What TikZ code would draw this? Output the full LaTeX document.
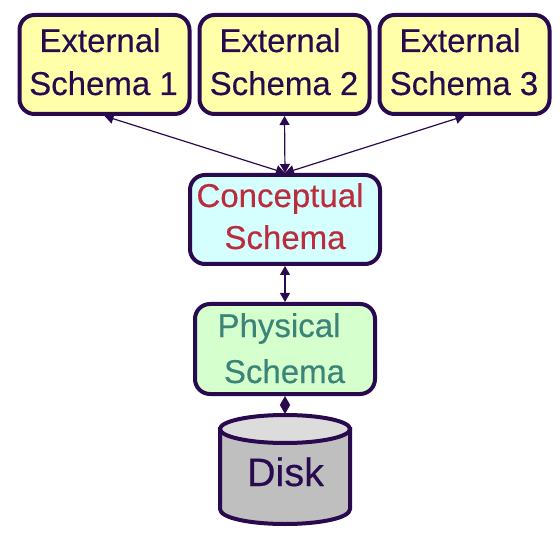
\documentclass[tikz,border=0pt]{standalone}
\usepackage{fontspec}
\setmainfont[FakeBold=0.3]{Liberation Sans}
\usetikzlibrary{arrows.meta}
\definecolor{ink}{HTML}{2A0A4F}
\definecolor{yel}{HTML}{FFFFAA}
\definecolor{cya}{HTML}{D5FFFF}
\definecolor{gre}{HTML}{D5FFCC}
\definecolor{redt}{HTML}{BB2D3C}
\definecolor{teal2}{HTML}{3A8478}
\definecolor{gbody}{HTML}{BFBFBF}
\definecolor{gtop}{HTML}{DCDCDC}
% text lines placed relative to the node centre: x1,y1,line1,x2,y2,line2
\newcommand{\placedlines}[6]{\makebox[0pt]{\smash{%
  \makebox[0pt]{\hspace*{\dimexpr2\dimexpr#1pt\relax\relax}\raisebox{#2pt}{#3}}%
  \makebox[0pt]{\hspace*{\dimexpr2\dimexpr#4pt\relax\relax}\raisebox{#5pt}{#6}}}}}
\tikzset{
  schemabox/.style={draw=ink,line width=4pt,rounded corners=15pt,inner sep=0pt,
    font=\fontsize{33}{33}\selectfont,text=ink},
  ext/.style={schemabox,fill=yel,minimum width=170pt,minimum height=99pt},
  link/.style={ink,line width=1.2pt,{Triangle[length=9pt,width=10pt]}-{Triangle[length=9pt,width=10pt]}},
  diskline/.style={draw=ink,line width=4pt}
}
\begin{document}
\begin{tikzpicture}[x=1pt,y=-1pt]
\useasboundingbox (0,0) rectangle (560,548);
\node[ext] (e1) at (104.5,64.5) {\placedlines{-4.5}{12.5}{External}{-1}{-30.5}{Schema 1}};
\node[ext] (e2) at (284.5,64.5) {\placedlines{-4.5}{12.5}{External}{-0.5}{-30.5}{Schema 2}};
\node[ext] (e3) at (464.5,64.5) {\placedlines{-4.5}{12.5}{External}{-0.5}{-30.5}{Schema 3}};
\node[schemabox,fill=cya,text=redt,minimum width=190pt,minimum height=89pt] (c) at (285,219.5)
  {\placedlines{-5}{12.5}{Conceptual}{0}{-29.5}{Schema}};
\node[schemabox,fill=gre,text=teal2,minimum width=180pt,minimum height=90pt] (p) at (285,349)
  {\placedlines{-6}{12}{Physical}{-0.5}{-34}{Schema}};
% disk body and top
\path[diskline,fill=gbody] (220,429) -- (220,509)
  .. controls (220,518) and (250,524) .. (285,524)
  .. controls (320,524) and (350,518) .. (350,509) -- (350,429) -- cycle;
\path[diskline,fill=gtop] (285,429) ellipse [x radius=65,y radius=14];
\node[inner sep=0pt,outer sep=0pt,minimum width=130pt,minimum height=112pt,text=ink,
  font=\fontsize{39.6}{39.6}\selectfont] (d) at (285,470) {\placedlines{0.5}{-16}{Disk}{0}{0}{}};
\draw[link] (e1.south) -- (c.north);
\draw[link] (e2.south) -- (c.north);
\draw[link] (e3.south) -- (c.north);
\draw[link] (c.south) -- (p.north);
\draw[link] (p.south) -- (d.north);
\end{tikzpicture}
\end{document}
